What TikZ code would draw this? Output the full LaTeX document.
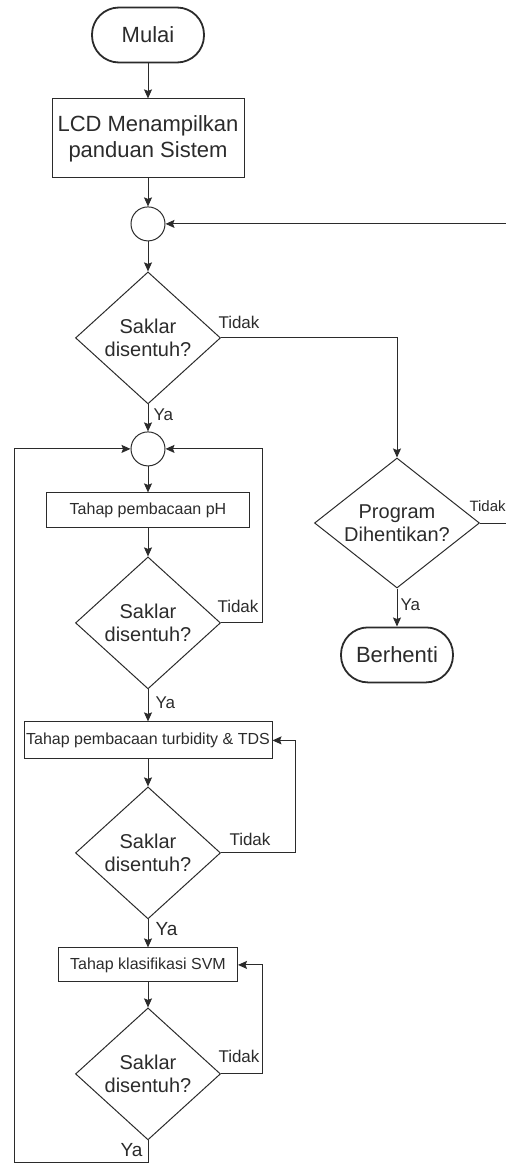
\documentclass[tikz,border=0pt]{standalone}
\usepackage{fontspec}
\setmainfont{Liberation Sans}
\usetikzlibrary{
  positioning,
  shapes.geometric,
  arrows.meta,
  calc
}
\definecolor{ink}{HTML}{2B2B2B}

\begin{document}
\begin{tikzpicture}[x=1pt, y=1pt, every node/.style={font=\fontsize{20}{23}\selectfont, text=ink}, align=center,
  terminal/.style={draw=ink, line width=1.8pt, rectangle, rounded corners=27pt, minimum width=112pt, minimum height=55pt, font=\fontsize{22}{25}\selectfont},
  process/.style={draw=ink, line width=1pt, rectangle, minimum width=192pt, minimum height=79pt, inner xsep=1pt, font=\fontsize{22}{26}\selectfont},
  stage/.style={draw=ink, line width=1pt, rectangle, minimum height=35pt, inner xsep=1pt, font=\fontsize{16}{19}\selectfont},
  decision/.style={draw=ink, line width=1pt, diamond, aspect=1.1, inner sep=0pt, minimum width=145pt, minimum height=132pt},
  junction/.style={draw=ink, line width=1pt, circle, minimum size=34pt, inner sep=0pt},
  answer/.style={inner sep=0pt, font=\fontsize{17}{20}\selectfont},
  arrow/.style={-{Stealth[length=9pt, width=8pt, inset=1.5pt]}, draw=ink, line width=1pt}
]
\useasboundingbox (0,0) rectangle (506,-1165);

% Nodes
\node[terminal] (start) at (148,-35) {Mulai};
\node[process, below=35pt of start] (lcd) {LCD Menampilkan\\panduan Sistem};
\node[junction, below=28pt of lcd] (c1) {};
\node[decision, below=30pt of c1] (d1) {Saklar\\disentuh?};
\node[junction, below=27pt of d1] (c2) {};
\node[stage, minimum width=203pt, below=26pt of c2] (ph) {Tahap pembacaan pH};
\node[decision, below=28pt of ph] (d2) {Saklar\\disentuh?};
\node[stage, minimum width=248pt, minimum height=37pt, below=32pt of d2] (turb) {Tahap pembacaan turbidity \& TDS};
\node[decision, below=27pt of turb] (d3) {Saklar\\disentuh?};
\node[stage, minimum width=179pt, minimum height=34pt, below=28pt of d3] (svm) {Tahap klasifikasi SVM};
\node[decision, below=25pt of svm] (d4) {Saklar\\disentuh?};

% Right column
\node[decision, aspect=1.25, minimum width=165pt, minimum height=130pt] (prog) at (397,-523) {Program\\Dihentikan?};
\node[terminal, below=38pt of prog] (stop) {Berhenti};

\coordinate (back) at (14,-1162);

% Arrows
\draw[arrow] (start) -- (lcd);
\draw[arrow] (lcd) -- (c1);
\draw[arrow] (c1) -- (d1);
\draw[arrow] (d1) -- node[answer, right=5pt, pos=0.4]{Ya} (c2);
\draw[arrow] (d1.east) -| node[answer, pos=0, anchor=south west, xshift=-3pt, yshift=9pt]{Tidak} (prog.north);
\draw[arrow] (prog) -- node[answer, right=3pt, pos=0.44]{Ya} (stop);
\draw[arrow] (prog.east) -- node[answer, font=\fontsize{15}{18}\selectfont, pos=0, anchor=south west, xshift=-11pt, yshift=11pt]{Tidak} ++(45,0) |- (c1.east);
\draw[arrow] (c2) -- (ph);
\draw[arrow] (ph) -- (d2);
\draw[arrow] (d2.east) -- node[answer, pos=0, anchor=south west, xshift=-4pt, yshift=10pt]{Tidak} ++(41,0) |- (c2.east);
\draw[arrow] (d2) -- node[answer, right=7pt, pos=0.42]{Ya} (turb);
\draw[arrow] (turb) -- (d3);
\draw[arrow] (d3.east) -- node[answer, pos=0, anchor=south west, xshift=8pt, yshift=7pt]{Tidak} ++(74,0) |- (turb.east);
\draw[arrow] (d3) -- node[answer, font=\fontsize{19}{22}\selectfont, right=7pt, pos=0.33]{Ya} (svm);
\draw[arrow] (svm) -- (d4);
\draw[arrow] (d4.east) -- node[answer, pos=0, anchor=south west, xshift=-3pt, yshift=11pt]{Tidak} ++(41,0) |- (svm.east);
\draw[arrow] (d4.south) -- node[answer, font=\fontsize{19}{22}\selectfont, pos=1, anchor=south east, xshift=-5pt, yshift=5pt]{Ya} (d4.south |- back) -- (back) |- (c2.west);

\end{tikzpicture}
\end{document}
